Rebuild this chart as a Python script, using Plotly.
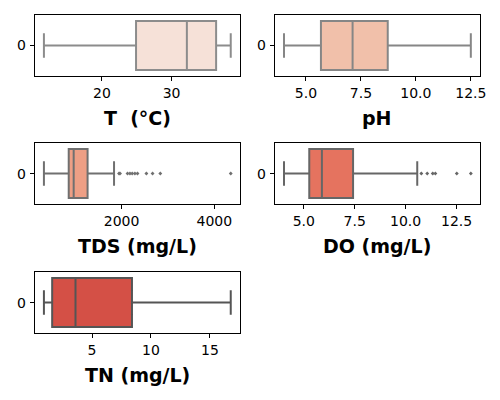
import plotly.graph_objects as go

# ---- data ----
labels = ["T\u00a0\u00a0(°C)", "pH", "TDS (mg/L)", "DO (mg/L)", "TN (mg/L)"]
lower_whisker = [11.67, 4.0, 324, 4.03, 0.92]
q1_vals = [24.9, 5.68, 859, 5.27, 1.62]
median_vals = [32.2, 7.12, 966, 5.89, 3.6]
q3_vals = [36.4, 8.72, 1266, 7.42, 8.39]
upper_whisker = [38.5, 12.5, 1837, 10.57, 16.77]
tds_outliers = [1944, 1966, 2128, 2180, 2229, 2287, 2343, 2535, 2668, 2835, 4355]
do_outliers = [10.77, 11.06, 11.33, 11.46, 12.51, 13.20]
outliers = [[], [], tds_outliers, do_outliers, []]
x_ticks = [[20, 30], [5.0, 7.5, 10.0, 12.5], [2000, 4000], [5.0, 7.5, 10.0, 12.5], [5, 10, 15]]
x_ticktext = [["20", "30"], ["5.0", "7.5", "10.0", "12.5"], ["2000", "4000"],
              ["5.0", "7.5", "10.0", "12.5"], ["5", "10", "15"]]
y_label = "0"

# ---- styles ----
fills = ["#f6e1d8", "#f1c0aa", "#ee9f85", "#e5735f", "#d45046"]
lines = ["#8c8c8c", "#868686", "#707070", "#666666", "#555555"]
W, H = 500, 400
panels = [(35, 243, 15, 76), (278, 486, 15, 76), (35, 243, 143, 204),
          (278, 486, 143, 204), (35, 243, 272, 333)]
FONT = "DejaVu Sans"

fig = go.Figure()
annotations = []
for i in range(5):
    xa = "x" if i == 0 else f"x{i+1}"
    ya = "y" if i == 0 else f"y{i+1}"
    fig.add_trace(go.Box(
        orientation="h", y=[0],
        q1=[q1_vals[i]], median=[median_vals[i]], q3=[q3_vals[i]],
        lowerfence=[lower_whisker[i]], upperfence=[upper_whisker[i]],
        fillcolor=fills[i], line=dict(color=lines[i], width=2),
        width=0.8, whiskerwidth=0.5, boxpoints=False,
        xaxis=xa, yaxis=ya, showlegend=False, hoverinfo="skip"))
    if outliers[i]:
        fig.add_trace(go.Scatter(
            x=outliers[i], y=[0] * len(outliers[i]), mode="markers",
            marker=dict(symbol="diamond", size=3, color=lines[i]),
            xaxis=xa, yaxis=ya, showlegend=False, hoverinfo="skip"))
    lo, hi = lower_whisker[i], max([upper_whisker[i]] + outliers[i])
    pad = (hi - lo) * 0.05
    x0, x1, y0, y1 = panels[i]
    xd = [x0 / W, x1 / W]
    yd = [1 - y1 / H, 1 - y0 / H]
    key = "" if i == 0 else str(i + 1)
    fig.layout["xaxis" + key] = dict(
        domain=xd, anchor=ya, range=[lo - pad, hi + pad],
        tickvals=x_ticks[i], ticktext=x_ticktext[i],
        showline=True, mirror=True, linecolor="black", linewidth=1,
        ticks="outside", ticklen=4, tickcolor="black", showgrid=False, zeroline=False,
        tickfont=dict(family=FONT, size=14, color="black"))
    fig.layout["yaxis" + key] = dict(
        domain=yd, anchor=xa, range=[0.5, -0.5],
        tickvals=[0], showticklabels=False,
        showline=True, mirror=True, linecolor="black", linewidth=1,
        ticks="outside", ticklen=4, tickcolor="black", showgrid=False, zeroline=False)
    annotations.append(dict(
        text=y_label, xref="paper", yref=f"{ya} domain",
        x=(x0 - 7) / W, y=0.5, xanchor="right", yanchor="middle",
        showarrow=False, font=dict(family=FONT, size=14, color="black")))
    annotations.append(dict(
        text=f"<b>{labels[i]}</b>", xref="paper", yref="paper",
        x=(x0 + x1) / 2 / W, y=1 - (y1 + 42) / H, xanchor="center", yanchor="middle",
        showarrow=False, font=dict(family=FONT, size=19, color="black")))

fig.update_layout(width=W, height=H, margin=dict(l=0, r=0, t=0, b=0),
                  plot_bgcolor="white", paper_bgcolor="white",
                  annotations=annotations)
fig.write_html("out.html")
